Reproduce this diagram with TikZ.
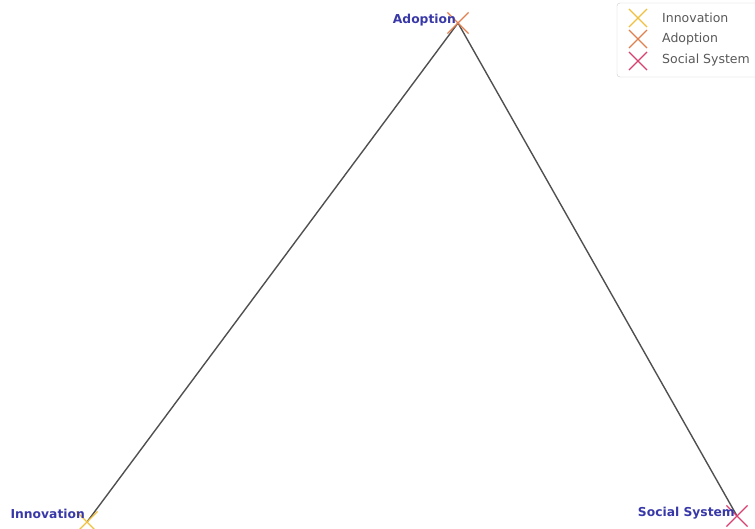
\documentclass[tikz,border=0pt]{standalone}
\usepackage{fontspec}
\setmainfont{DejaVu Sans}
\usetikzlibrary{shapes.misc}
\definecolor{innoC}{HTML}{F0C040}
\definecolor{adopC}{HTML}{E08050}
\definecolor{socC}{HTML}{D84070}
\definecolor{lblC}{HTML}{3838A8}
\definecolor{lineC}{HTML}{505050}

\begin{document}
\begin{tikzpicture}[
    x=1pt, y=-1pt,
    ptmark/.style={draw=#1, cross out, minimum size=20pt, inner sep=0pt, line width=1.2pt},
    legmark/.style={draw=#1, cross out, minimum size=17pt, inner sep=0pt, line width=1.1pt},
    lbl/.style={font=\fontsize{12.3}{13}\selectfont\bfseries, text=lblC, anchor=base east, inner sep=0pt},
    legtext/.style={font=\fontsize{12.5}{13}\selectfont, text=black!65, anchor=west, inner sep=0pt},
    edge/.style={draw=lineC, line width=1.4pt}
  ]
    \useasboundingbox (0,0) rectangle (755,528);
    \clip (0,0) rectangle (755,528);
    % points
    \coordinate (inno) at (87,522);
    \coordinate (adop) at (458,23);
    \coordinate (soc)  at (737,516);
    % edges
    \draw[edge] (inno) -- (adop) -- (soc);
    % markers
    \node[ptmark=innoC] (innoM) at (inno) {};
    \node[ptmark=adopC] (adopM) at (adop) {};
    \node[ptmark=socC]  (socM)  at (soc)  {};
    % labels
    \node[lbl] (innoL) at ([xshift=-2pt,yshift=4pt]inno) {Innovation};
    \node[lbl] (adopL) at ([xshift=-2pt]adop) {Adoption};
    \node[lbl] (socL)  at ([xshift=-2pt]soc)  {Social System};
    % legend
    \draw[black!20, fill=white, rounded corners=3pt] (617,3) rectangle (765,77);
    \node[legmark=innoC] (legI) at (638,18) {};
    \node[legmark=adopC] (legA) at (638,39) {};
    \node[legmark=socC]  (legS) at (638,61) {};
    \node[legtext] (legIt) at (662,18) {Innovation};
    \node[legtext] (legAt) at (662,39) {Adoption};
    \node[legtext] (legSt) at (662,60) {Social System};
\end{tikzpicture}
\end{document}
